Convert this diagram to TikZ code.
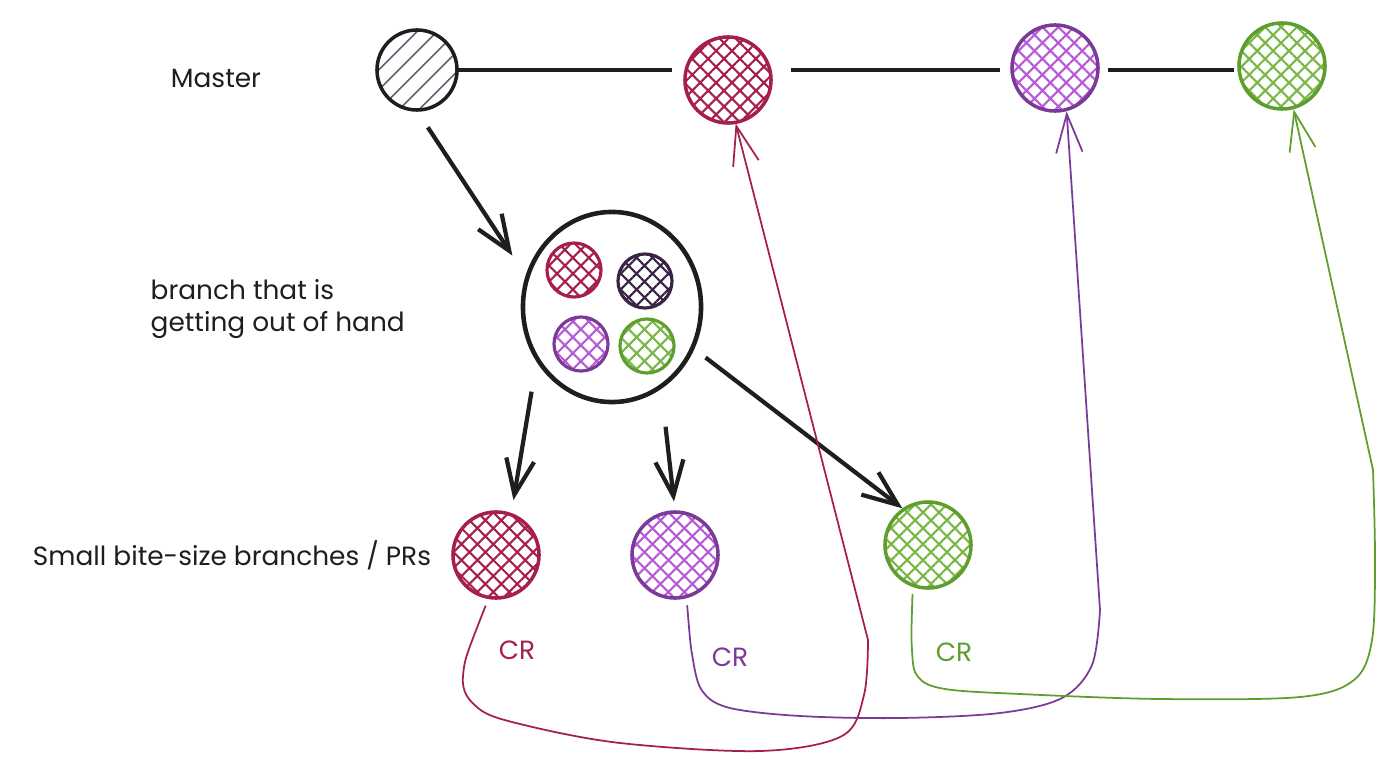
\documentclass[tikz,border=0pt]{standalone}
\usepackage{fontspec}
\setmainfont{Poppins}
\usetikzlibrary{arrows.meta,patterns.meta,shapes.geometric}
\definecolor{ink}{HTML}{1E1E1E}
\definecolor{crimson}{HTML}{A61E4D}
\definecolor{grape}{HTML}{7B3A98}
\definecolor{grapelight}{HTML}{B65BD4}
\definecolor{leaf}{HTML}{5E9E2C}
\definecolor{leaflight}{HTML}{7AB646}
\definecolor{plum}{HTML}{3A2446}
\definecolor{hatchgray}{HTML}{6B5E73}

\begin{document}
\begin{tikzpicture}[x=0.01cm, y=-0.01cm,
	commit/.style={circle, draw=#1, line width=1pt, minimum size=0.86cm, inner sep=0pt},
	subcommit/.style={circle, draw=#1, line width=0.9pt, minimum size=0.54cm, inner sep=0pt},
	xhatch/.style={pattern={Hatch[angle=45, distance=3.2pt, line width=0.6pt]}, pattern color=#1},
	trunk/.style={draw=ink, line width=1.3pt},
	flow/.style={draw=ink, line width=1.2pt, -{Straight Barb[length=10pt, width=8pt]}},
	review/.style={draw=#1, line width=0.5pt, -{Straight Barb[length=11pt, width=7.5pt]}},
	note/.style={text=ink, font=\fontsize{7.5}{9}\selectfont, align=left, inner sep=0pt},
	crnote/.style={text=#1, font=\fontsize{7.5}{9}\selectfont, inner sep=0pt}]
		\useasboundingbox (0, 0) rectangle (1400, 767);
		
		\node[commit=ink, pattern={Lines[angle=45, distance=4pt, line width=0.5pt]}, pattern color=hatchgray, minimum size=0.8cm] (m0) at (417, 70) {};
		\node[commit=crimson, xhatch=crimson] (m1) at (728, 80) {};
		\node[commit=grape, xhatch=grapelight] (m2) at (1055, 68) {};
		\node[commit=leaf, xhatch=leaflight] (m3) at (1282, 66) {};
		
		\draw[trunk, shorten >=3.4pt] (m0.east) -- (m0.east -| m1.west);
		\draw[trunk, shorten <=5.4pt, shorten >=3pt] (m1.east |- m0.east) -- (m2.west |- m0.east);
		\draw[trunk, shorten <=2.3pt, shorten >=1pt] (m2.east |- m0.east) -- (m3.west |- m0.east);
		
		\node[ellipse, draw=ink, line width=1.3pt, minimum width=1.78cm, minimum height=1.9cm] (big) at (612, 307) {};
		\node[subcommit=crimson, xhatch=crimson] (s1) at (574, 270) {};
		\node[subcommit=plum, xhatch=plum] (s2) at (645, 281) {};
		\node[subcommit=grape, xhatch=grapelight] (s3) at (581, 344) {};
		\node[subcommit=leaf, xhatch=leaflight] (s4) at (647, 346) {};
		
		\node[commit=crimson, xhatch=crimson] (b1) at (496, 555) {};
		\node[commit=grape, xhatch=grapelight] (b2) at (675, 555) {};
		\node[commit=leaf, xhatch=leaflight] (b3) at (928, 545) {};
		
		\draw[flow, shorten <=5.6pt, shorten >=6.8pt] (m0.south) -- (big.160);
		\draw[flow, shorten <=8.6pt, shorten >=3.7pt] (big.216) -- (b1.70);
		\draw[flow, shorten <=10.8pt, shorten >=2.5pt] (big.301) -- (b2.north);
		\draw[flow, shorten <=4pt] (big.333) -- (b3.125);
		
		\node[note] (master) at (216, 78) {Master};
		\node[note, anchor=west] (wip) at (150, 309) {branch that is\\getting out of hand};
		\node[note] (prs) at (232, 555) {Small bite-size branches / PRs};
		
		\node[crnote=crimson] (cr1) at (517, 650) {CR};
		\node[crnote=grape] (cr2) at (730, 657) {CR};
		\node[crnote=leaf] (cr3) at (954, 652) {CR};
		
		\draw[review=crimson, shorten <=2pt] plot[smooth, tension=0.55] coordinates {(b1.260) (463, 676) (478, 708) (520, 724) (620, 743) (760, 751) (842, 736) (864, 695) (868, 640)} -- (m1.280);
		\draw[review=grape, shorten <=2pt] plot[smooth, tension=0.55] coordinates {(b2.285) (693, 660) (703, 692) (730, 708) (800, 716) (900, 718) (1000, 713) (1062, 698) (1092, 665) (1100, 610)} -- (m2.285);
		\draw[review=leaf, shorten <=2pt] plot[smooth, tension=0.55] coordinates {(b3.250) (912, 650) (918, 677) (945, 689) (1020, 694) (1160, 699) (1300, 697) (1354, 680) (1372, 640) (1375, 560) (1373, 470)} -- (m3.285);
	\end{tikzpicture}
\end{document}
